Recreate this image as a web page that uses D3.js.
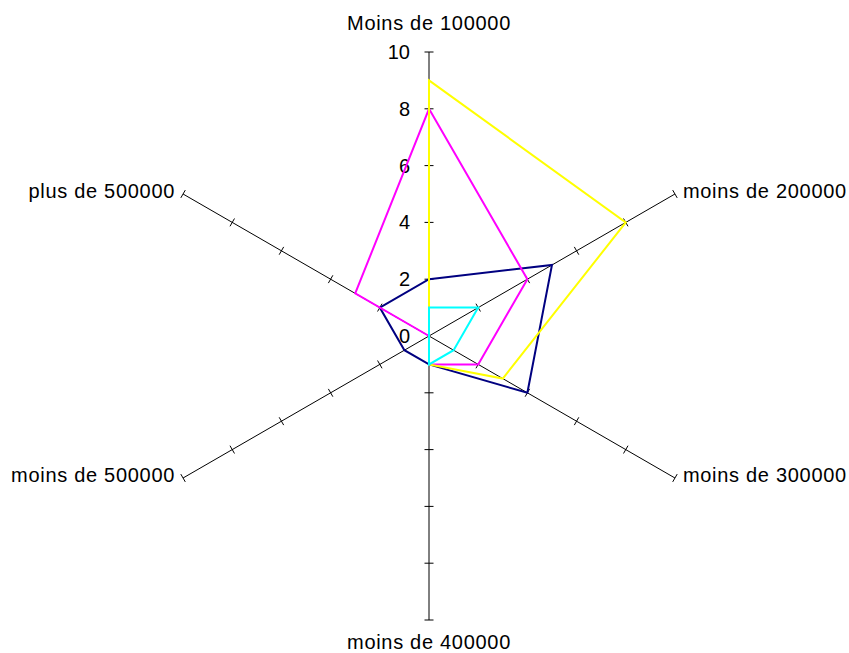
<!DOCTYPE html>
<html>
<head>
<meta charset="utf-8">
<script src="https://cdn.jsdelivr.net/npm/d3@7"></script>
<style>
  html, body { margin: 0; padding: 0; background: #fff; }
  svg { display: block; }
  text { font-family: "Liberation Sans", Arial, sans-serif; fill: #000; }
</style>
</head>
<body>
<svg id="chart" width="849" height="653"></svg>
<script>
const categories = ["Moins de 100000", "moins de 200000", "moins de 300000", "moins de 400000", "moins de 500000", "plus de 500000"];
const seriesNavy    = [2, 5, 4, 1, 1, 2];
const seriesMagenta = [8, 4, 2, 1, 0, 3];
const seriesYellow  = [9, 8, 3, 1, 0, 0];
const seriesCyan    = [1, 2, 1, 1, 0, 0];
const tickValues = [0, 2, 4, 6, 8, 10];

const series = [
  { values: seriesNavy, color: "#000080" },
  { values: seriesMagenta, color: "#FF00FF" },
  { values: seriesYellow, color: "#FFFF00" },
  { values: seriesCyan, color: "#00FFFF" }
];

const svg = d3.select("#chart");
const cx = 429, cy = 336;
const r = d3.scaleLinear().domain([0, 10]).range([0, 284]);
const n = categories.length;
const angle = i => i * 2 * Math.PI / n;
const px = (i, v) => cx + r(v) * Math.sin(angle(i));
const py = (i, v) => cy - r(v) * Math.cos(angle(i));

const g = svg.append("g");

// axes
categories.forEach((c, i) => {
  g.append("line")
    .attr("x1", cx).attr("y1", cy)
    .attr("x2", px(i, 10)).attr("y2", py(i, 10))
    .attr("stroke", "#000").attr("stroke-width", 1);
  const a = angle(i);
  const perpX = Math.cos(a), perpY = Math.sin(a);
  tickValues.filter(v => v > 0).forEach(v => {
    const x = px(i, v), y = py(i, v);
    g.append("line")
      .attr("x1", x - perpX * 4.5).attr("y1", y - perpY * 4.5)
      .attr("x2", x + perpX * 4.5).attr("y2", y + perpY * 4.5)
      .attr("stroke", "#000").attr("stroke-width", 1);
  });
});

// value labels
tickValues.forEach(v => {
  g.append("text")
    .attr("x", cx - 19).attr("y", py(0, v))
    .attr("text-anchor", "end")
    .attr("dominant-baseline", "central")
    .attr("font-size", 20)
    .text(v);
});

// series
const line = d3.lineRadial()
  .angle((d, i) => angle(i))
  .radius(d => r(d))
  .curve(d3.curveLinearClosed);

series.forEach(s => {
  g.append("path")
    .attr("transform", `translate(${cx},${cy})`)
    .attr("d", line(s.values))
    .attr("fill", "none")
    .attr("stroke", s.color)
    .attr("stroke-width", 2)
    .attr("stroke-linejoin", "miter");
});

// category labels
categories.forEach((c, i) => {
  const x = px(i, 10), y = py(i, 10);
  const t = g.append("text").attr("font-size", 20).attr("letter-spacing", 0.7).text(c);
  const s = Math.sin(angle(i));
  if (Math.abs(s) < 0.01) {
    t.attr("text-anchor", "middle").attr("x", x);
    if (Math.cos(angle(i)) > 0) t.attr("y", y - 22);
    else t.attr("y", y + 29);
  } else if (s > 0) {
    t.attr("text-anchor", "start").attr("x", x + 8).attr("y", y - 3).attr("dominant-baseline", "central");
  } else {
    t.attr("text-anchor", "end").attr("x", x - 8).attr("y", y - 3).attr("dominant-baseline", "central");
  }
});
</script>
</body>
</html>
